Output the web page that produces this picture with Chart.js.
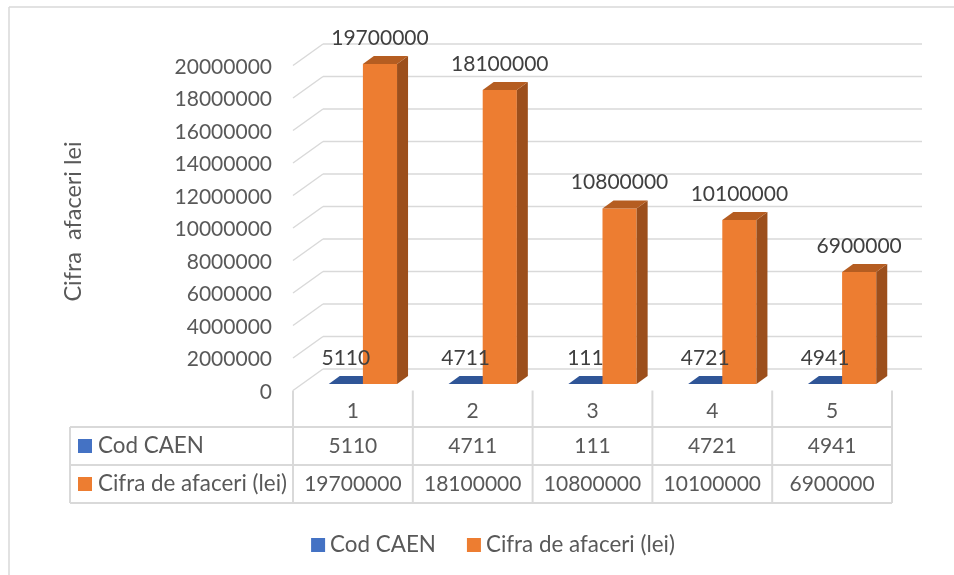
<!DOCTYPE html>
<html>
<head>
<meta charset="utf-8">
<script src="https://cdn.jsdelivr.net/npm/chart.js@4/dist/chart.umd.min.js"></script>
<style>
  html, body { margin: 0; padding: 0; background: #ffffff; }
  canvas { display: block; }
</style>
</head>
<body>
<canvas id="chart" width="954" height="575"></canvas>
<script>
'use strict';

//****************************************
//          GLOBAL VARIABLES
// ****************************************

const categories = ['1', '2', '3', '4', '5'];
const codCaen = [5110, 4711, 111, 4721, 4941];
const cifraAfaceri = [19700000, 18100000, 10800000, 10100000, 6900000];
const seriesNames = ['Cod CAEN', 'Cifra de afaceri (lei)'];
const yAxisTitle = 'Cifra  afaceri lei';
const yMin = 0;
const yMax = 20000000;
const yStep = 2000000;

const FONT = 'Lato';
const TEXT = '#595959';
const LABEL = '#404040';
const LINE = '#D9D9D9';
const BLUE = '#4472C4';
const ORANGE = '#ED7D31';

// 3D offsets of front floor and back wall, relative to the bar plane
const FRONT = { dx: -10, dy: 6.5 };
const BACK = { dx: 20, dy: -15 };
const DEPTH = { dx: 11, dy: -8 };

//****************************************
//            HELPER FUNCTIONS
//****************************************

function line(ctx, x1, y1, x2, y2) {
  ctx.beginPath();
  ctx.moveTo(x1, y1);
  ctx.lineTo(x2, y2);
  ctx.stroke();
}

function poly(ctx, pts, color) {
  ctx.beginPath();
  ctx.moveTo(pts[0][0], pts[0][1]);
  for (let i = 1; i < pts.length; i++) {
    ctx.lineTo(pts[i][0], pts[i][1]);
  }
  ctx.closePath();
  ctx.fillStyle = color;
  ctx.fill();
}

// side and top face of one bar
function drawBarFaces(ctx, bar, sideColor, topColor) {
  const left = bar.x - bar.width / 2;
  const right = bar.x + bar.width / 2;
  const top = bar.y;
  const bottom = bar.base;
  poly(ctx, [[right, top], [right + DEPTH.dx, top + DEPTH.dy],
    [right + DEPTH.dx, bottom + DEPTH.dy], [right, bottom]], sideColor);
  poly(ctx, [[left, top], [right, top], [right + DEPTH.dx, top + DEPTH.dy],
    [left + DEPTH.dx, top + DEPTH.dy]], topColor);
}

// *********************************************
//              3D + TABLE PLUGIN
// *********************************************

const excelLook = {
  id: 'excelLook',

  beforeDraw(chart) {
    const ctx = chart.ctx;
    ctx.save();
    ctx.fillStyle = '#ffffff';
    ctx.fillRect(0, 0, chart.width, chart.height);
    ctx.strokeStyle = LINE;
    ctx.lineWidth = 1.5;
    line(ctx, 9, 7, chart.width, 7);
    line(ctx, 9, 7, 9, chart.height);
    ctx.restore();
  },

  beforeDatasetsDraw(chart) {
    const ctx = chart.ctx;
    const area = chart.chartArea;
    const y = chart.scales.y;
    ctx.save();
    ctx.strokeStyle = LINE;
    ctx.lineWidth = 1.5;
    y.ticks.forEach(t => {
      const py = y.getPixelForValue(t.value);
      line(ctx, area.left + FRONT.dx, py + FRONT.dy, area.left + BACK.dx, py + BACK.dy);
      line(ctx, area.left + BACK.dx, py + BACK.dy, area.right + BACK.dx, py + BACK.dy);
    });
    // blue bars are drawn first so the orange ones cover them
    chart.getDatasetMeta(0).data.forEach(bar => {
      drawBarFaces(ctx, bar, '#2F5597', '#2F5597');
    });
    ctx.restore();
  },

  afterDatasetsDraw(chart) {
    const ctx = chart.ctx;
    ctx.save();
    chart.getDatasetMeta(1).data.forEach(bar => {
      drawBarFaces(ctx, bar, '#9C4F1C', '#B55D21');
    });
    ctx.font = '21px ' + FONT;
    ctx.fillStyle = LABEL;
    ctx.textAlign = 'center';
    ctx.textBaseline = 'middle';
    chart.data.datasets.forEach((ds, di) => {
      chart.getDatasetMeta(di).data.forEach((bar, i) => {
        ctx.fillText(String(ds.data[i]), bar.x, bar.y - 26);
      });
    });
    ctx.restore();
  },

  afterDraw(chart) {
    const ctx = chart.ctx;
    const x = chart.scales.x;
    const area = chart.chartArea;
    const catW = x.getPixelForValue(1) - x.getPixelForValue(0);
    const bounds = [];
    for (let i = 0; i <= categories.length; i++) {
      bounds.push(x.getPixelForValue(0) - catW / 2 + i * catW + FRONT.dx);
    }
    const headTop = area.bottom + FRONT.dy;
    const rows = [427, 465, 503];
    const tableLeft = 70;
    const numFont = '21px ' + FONT;
    const wordFont = '22.4px ' + FONT;

    ctx.save();
    ctx.strokeStyle = LINE;
    ctx.lineWidth = 2;
    bounds.forEach(bx => line(ctx, bx, headTop, bx, rows[2]));
    line(ctx, tableLeft, rows[0], tableLeft, rows[2]);
    rows.forEach(ry => line(ctx, tableLeft, ry, bounds[bounds.length - 1], ry));

    ctx.fillStyle = TEXT;
    ctx.textBaseline = 'middle';
    ctx.textAlign = 'center';
    ctx.font = numFont;
    categories.forEach((c, i) => {
      ctx.fillText(c, (bounds[i] + bounds[i + 1]) / 2, (headTop + rows[0]) / 2 + 2);
    });
    chart.data.datasets.forEach((ds, di) => {
      const cy = (rows[di] + rows[di + 1]) / 2;
      ctx.textAlign = 'center';
      ctx.fillStyle = TEXT;
      ctx.font = numFont;
      ds.data.forEach((v, i) => {
        ctx.fillText(String(v), (bounds[i] + bounds[i + 1]) / 2, cy);
      });
      ctx.fillStyle = ds.backgroundColor;
      ctx.fillRect(78, cy - 7, 14, 14);
      ctx.fillStyle = TEXT;
      ctx.textAlign = 'left';
      ctx.font = wordFont;
      ctx.fillText(ds.label, 98, cy);
    });

    // legend
    ctx.font = wordFont;
    const widths = chart.data.datasets.map(ds => 14 + 5 + ctx.measureText(ds.label).width);
    const gap = 31;
    let lx = 493 - (widths[0] + widths[1] + gap) / 2;
    const ly = 545;
    chart.data.datasets.forEach((ds, di) => {
      ctx.fillStyle = ds.backgroundColor;
      ctx.fillRect(lx, ly - 7, 14, 14);
      ctx.fillStyle = TEXT;
      ctx.textAlign = 'left';
      ctx.fillText(ds.label, lx + 19, ly);
      lx += widths[di] + gap;
    });
    ctx.restore();
  }
};

// *********************************************
//              CHART RENDERING
// *********************************************

const ctx = document.getElementById('chart').getContext('2d');

new Chart(ctx, {
  type: 'bar',
  data: {
    labels: categories,
    datasets: [{
      label: seriesNames[0],
      data: codCaen,
      backgroundColor: BLUE,
      categoryPercentage: 0.57,
      barPercentage: 1
    }, {
      label: seriesNames[1],
      data: cifraAfaceri,
      backgroundColor: ORANGE,
      categoryPercentage: 0.57,
      barPercentage: 1
    }]
  },
  options: {
    responsive: false,
    animation: false,
    devicePixelRatio: 1,
    layout: { padding: { left: 0, top: 59, right: 52, bottom: 191 } },
    plugins: {
      legend: { display: false },
      tooltip: { enabled: false }
    },
    scales: {
      x: { display: false },
      y: {
        min: yMin,
        max: yMax,
        afterFit: scale => { scale.width = 303; },
        grid: { display: false, drawTicks: false },
        border: { display: false },
        ticks: {
          stepSize: yStep,
          padding: 31,
          labelOffset: 8,
          color: TEXT,
          font: { family: FONT, size: 21 },
          callback: v => String(v)
        },
        title: {
          display: true,
          text: yAxisTitle,
          color: TEXT,
          font: { family: FONT, size: 23.5 },
          padding: { top: 59, bottom: 0 }
        }
      }
    }
  },
  plugins: [excelLook]
});
</script>
</body>
</html>
